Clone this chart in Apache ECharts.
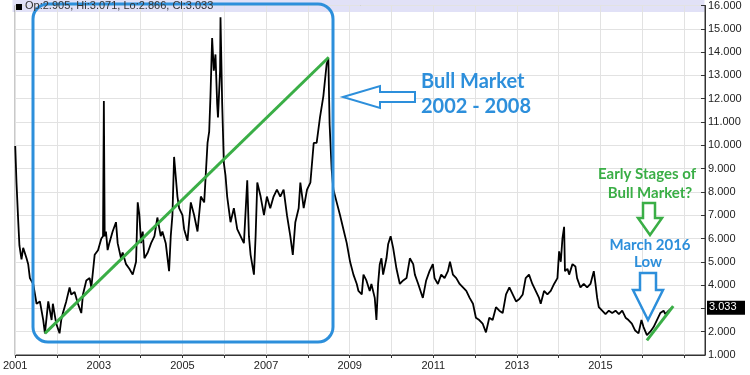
<!DOCTYPE html>
<html><head><meta charset="utf-8">
<script src="https://cdn.jsdelivr.net/npm/echarts@6/dist/echarts.min.js"></script>
<style>html,body{margin:0;padding:0;background:#fff}#c{width:750px;height:375px}</style>
</head><body><div id="c"></div>
<script>
// decimal years and prices
const dates = [
2001.00,2001.03,2001.07,2001.10,2001.15,2001.19,2001.27,2001.31,2001.35,2001.43,2001.51,2001.59,2001.67,2001.71,2001.79,2001.87,2001.90,2001.98,
2002.06,2002.10,2002.14,2002.22,2002.30,2002.34,2002.42,2002.50,2002.58,2002.62,2002.70,2002.78,2002.82,2002.90,2002.98,
2003.06,2003.10,2003.12,2003.14,2003.17,2003.21,2003.25,2003.33,2003.41,2003.45,2003.53,2003.57,2003.65,2003.73,2003.81,2003.89,2003.93,2003.97,
2004.01,2004.05,2004.09,2004.17,2004.25,2004.33,2004.40,2004.48,2004.52,2004.60,2004.68,2004.72,2004.76,2004.80,2004.84,2004.88,2004.92,2005.00,
2005.04,2005.12,2005.20,2005.28,2005.36,2005.44,2005.52,2005.60,2005.64,2005.67,2005.71,2005.75,2005.79,2005.83,2005.85,2005.90,2005.91,2005.95,2005.99,
2006.03,2006.07,2006.15,2006.23,2006.31,2006.39,2006.47,2006.55,2006.59,2006.63,2006.71,2006.75,2006.79,2006.87,2006.95,
2007.02,2007.10,2007.18,2007.26,2007.34,2007.42,2007.50,2007.58,2007.64,2007.70,2007.78,2007.82,2007.90,2007.98,
2008.06,2008.14,2008.21,2008.29,2008.37,2008.45,2008.49,2008.52,2008.57,2008.61,2008.69,2008.77,2008.85,2008.93,
2009.01,2009.09,2009.17,2009.21,2009.29,2009.33,2009.40,2009.48,2009.52,2009.60,2009.64,2009.68,2009.72,2009.76,2009.80,2009.88,2009.92,2009.98,
2010.04,2010.12,2010.20,2010.28,2010.36,2010.44,2010.52,2010.56,2010.64,2010.75,2010.83,2010.91,2010.99,
2011.03,2011.11,2011.19,2011.27,2011.35,2011.40,2011.47,2011.55,2011.63,2011.71,2011.79,2011.87,2011.95,
2012.02,2012.10,2012.18,2012.26,2012.34,2012.42,2012.50,2012.58,2012.66,2012.74,2012.82,2012.90,2012.98,
2013.06,2013.14,2013.21,2013.29,2013.37,2013.45,2013.53,2013.57,2013.65,2013.73,2013.81,2013.89,2013.97,
2014.01,2014.05,2014.09,2014.13,2014.15,2014.21,2014.25,2014.33,2014.40,2014.44,2014.52,2014.60,2014.68,2014.76,2014.84,2014.88,2014.92,2014.96,
2015.04,2015.12,2015.20,2015.28,2015.36,2015.44,2015.52,2015.60,2015.67,2015.75,2015.83,2015.91,2015.98,
2016.03,2016.11,2016.19,2016.27,2016.35,2016.43,2016.51,2016.55,2016.63,2016.71
];
const prices = [
9.97,8.4,6.8,5.7,5.1,5.6,5.15,4.9,4.3,4.05,3.2,3.3,2.5,1.93,3.3,2.5,3.2,2.35,
1.93,2.5,2.8,3.3,3.9,3.6,3.7,3.2,2.8,3.6,4.2,4.3,3.9,5.3,5.5,
6.0,6.1,11.9,6.1,6.3,5.5,5.8,6.3,6.7,5.8,5.15,5.4,4.9,4.7,4.45,5.0,7.55,7.0,
5.8,6.3,5.15,5.4,5.8,6.1,6.9,6.1,6.3,5.8,4.6,6.1,7.0,9.5,8.65,7.8,7.3,7.0,
6.4,5.9,7.55,7.0,6.3,7.8,7.55,10.1,10.6,12.1,14.6,13.2,13.9,11.8,11.2,13.2,15.5,11.8,9.25,
8.7,7.8,6.7,7.3,6.4,6.1,5.8,8.5,6.1,5.3,4.45,6.1,8.4,7.8,7.0,
7.8,7.3,7.8,8.1,7.8,8.1,7.0,6.1,5.3,6.7,7.3,8.4,7.3,8.1,
8.4,10.1,10.1,11.2,12.1,13.5,13.7,10.9,8.95,8.1,7.55,7.0,6.4,5.8,
5.0,4.45,4.05,3.75,3.6,4.45,4.2,3.75,4.05,3.45,2.5,4.05,4.9,5.15,4.45,5.15,5.75,6.1,
5.6,4.7,4.05,4.2,4.3,5.15,4.9,4.45,4.05,3.45,4.2,4.6,4.9,
4.3,4.05,4.45,4.3,4.6,5.0,4.45,4.3,4.05,3.9,3.75,3.45,3.2,
2.6,2.5,2.35,1.97,2.6,2.5,3.05,2.9,2.8,3.6,3.9,3.6,3.3,
3.4,3.6,4.3,4.45,4.05,3.75,3.45,3.2,3.75,3.6,3.75,4.05,4.3,
5.45,5.0,6.0,6.5,4.6,4.7,4.45,4.9,4.8,4.3,3.9,4.05,3.9,4.05,4.6,4.05,3.45,3.05,
2.9,2.75,2.9,2.8,2.9,2.75,2.9,2.6,2.5,2.35,2.05,1.93,2.5,
2.2,1.85,2.0,2.2,2.5,2.8,2.9,2.75,2.9,3.033
];
const trendBull = [[2001.71,1.93],[2008.50,13.78]];
const trendNew = [[2016.11,1.63],[2016.74,3.10]];
const yTicks = {min:1, max:16, step:1};
const xTicks = {min:2001, max:2017.5, step:1, lastLabel:2015};
const header = 'Op:2.905, Hi:3.071, Lo:2.866, Cl:3.033';
const lastValue = 3.033;

const series = dates.map((d,i)=>[d,prices[i]]);
const chart = echarts.init(document.getElementById('c'), null, {renderer:'canvas'});
const BLUE = '#2d8fdb', GREEN = '#3aae46';
const FONT = 'Liberation Sans';
chart.setOption({
  animation:false,
  title:{text:header, left:25, top:0, padding:0, z:30, zlevel:0,
    textStyle:{fontSize:11, fontWeight:'normal', color:'#333', fontFamily:FONT, lineHeight:12}},
  grid:{left:12, right:45, top:0, bottom:20, show:true, borderColor:'#333', borderWidth:1},
  xAxis:{type:'value', min:xTicks.min, max:xTicks.max, interval:xTicks.step,
    axisLine:{show:true, lineStyle:{color:'#333'}},
    axisTick:{show:true, length:3, lineStyle:{color:'#333'}},
    splitLine:{show:true, lineStyle:{color:'#e2e2e2'}},
    axisLabel:{showMaxLabel:false, color:'#222', fontSize:11, fontFamily:FONT, margin:5,
      formatter:v=> (Number.isInteger(v) && v%2===1 && v<=xTicks.lastLabel) ? String(v) : ''}},
  yAxis:{type:'value', position:'right', min:yTicks.min, max:yTicks.max, interval:yTicks.step,
    axisLine:{show:true, lineStyle:{color:'#333'}},
    axisTick:{show:true, inside:true, length:4, lineStyle:{color:'#333'}},
    splitLine:{show:true, lineStyle:{color:'#e2e2e2'}},
    axisLabel:{color:'#222', fontSize:11, fontFamily:FONT, margin:3, formatter:v=>v.toFixed(3)}},
  series:[
    {type:'line', data:series, showSymbol:false, lineStyle:{color:'#000', width:1.8}, z:3},
    {type:'line', data:trendBull, showSymbol:false, lineStyle:{color:GREEN, width:3}, z:4},
    {type:'line', data:trendNew, showSymbol:false, lineStyle:{color:GREEN, width:3}, z:4}
  ]
});
const yLast = chart.convertToPixel({yAxisIndex:0}, lastValue);
chart.setOption({graphic:[
  {type:'rect', shape:{x:12.5,y:0,width:692,height:12}, style:{fill:'#e1e1f7'}, z:-1, silent:true},
  {type:'rect', shape:{x:16,y:4,width:6,height:6}, style:{fill:'#000'}, z:11},
  {type:'rect', shape:{x:33,y:4,width:300,height:338,r:15}, style:{fill:'none', stroke:BLUE, lineWidth:3}, z:12},
  {type:'polygon', shape:{points:[[343,97],[380,86],[380,92],[415,92],[415,102],[380,102],[380,108]]}, style:{fill:'#fff', stroke:BLUE, lineWidth:2}, z:12},
  {type:'text', x:421, y:72, style:{text:'Bull Market', fill:BLUE, fontSize:20, fontWeight:'bold', fontFamily:'Lato'}, z:12},
  {type:'text', x:421, y:97, style:{text:'2002 - 2008', fill:BLUE, fontSize:20, fontWeight:'bold', fontFamily:'Lato'}, z:12},
  {type:'text', x:647, y:167, style:{text:'Early Stages of', fill:GREEN, fontSize:15, fontWeight:'bold', fontFamily:'Lato', align:'center'}, z:12},
  {type:'text', x:650, y:186, style:{text:'Bull Market?', fill:GREEN, fontSize:15, fontWeight:'bold', fontFamily:'Lato', align:'center'}, z:12},
  {type:'polygon', shape:{points:[[643,203],[655,203],[655,218],[662,218],[650,235],[638,218],[643,218]]}, style:{fill:'#fff', stroke:GREEN, lineWidth:2.5}, z:12},
  {type:'text', x:650, y:238, style:{text:'March 2016', fill:BLUE, fontSize:15, fontWeight:'bold', fontFamily:'Lato', align:'center'}, z:12},
  {type:'text', x:648, y:255, style:{text:'Low', fill:BLUE, fontSize:15, fontWeight:'bold', fontFamily:'Lato', align:'center'}, z:12},
  {type:'polygon', shape:{points:[[640,273],[656,273],[656,290],[663,290],[648,320],[633,290],[640,290]]}, style:{fill:'#fff', stroke:BLUE, lineWidth:2.5}, z:12},
  {type:'rect', shape:{x:707,y:yLast-7,width:38,height:14}, style:{fill:'#000'}, z:12},
  {type:'text', x:709, y:yLast-6, style:{text:lastValue.toFixed(3), fill:'#fff', fontSize:11, fontFamily:FONT}, z:13}
]});
</script></body></html>
